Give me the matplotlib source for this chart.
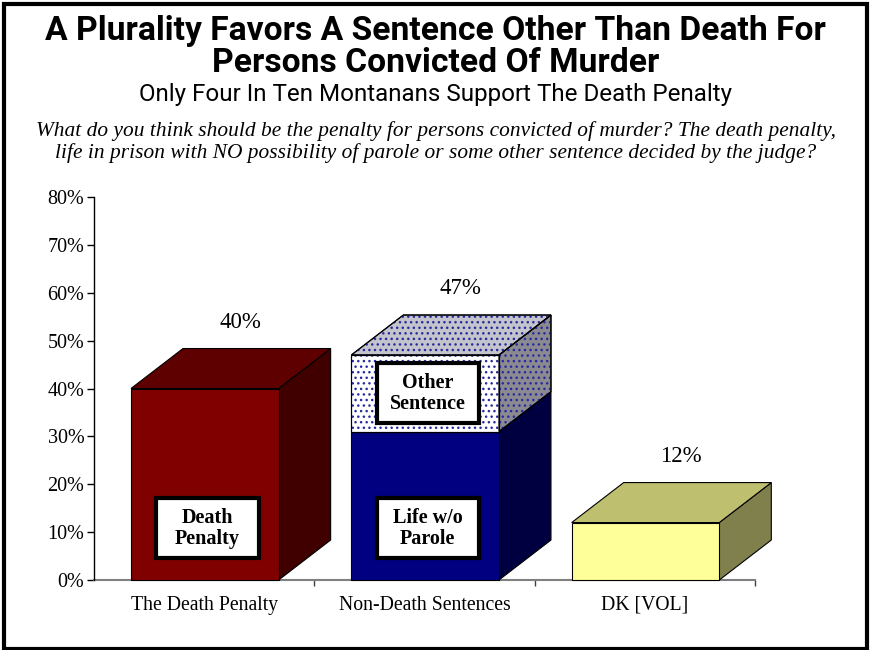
import matplotlib
matplotlib.use("Agg")
import matplotlib.pyplot as plt
from matplotlib.patches import Polygon, Rectangle

# ---------------- data ----------------
categories = ["The Death Penalty", "Non-Death Sentences", "DK [VOL]"]
death_penalty = [40, 0, 0]
life_wo_parole = [0, 31, 0]
other_sentence = [0, 16, 0]
dk_vol = [0, 0, 12]
total_labels = ["40%", "47%", "12%"]
yticks = [0, 10, 20, 30, 40, 50, 60, 70, 80]
ytick_labels = ["0%", "10%", "20%", "30%", "40%", "50%", "60%", "70%", "80%"]

title1 = "A Plurality Favors A Sentence Other Than Death For"
title2 = "Persons Convicted Of Murder"
subtitle = "Only Four In Ten Montanans Support The Death Penalty"
question1 = "What do you think should be the penalty for persons convicted of murder? The death penalty,"
question2 = "life in prison with NO possibility of parole or some other sentence decided by the judge?"

# ---------------- styles ----------------
W, H, DPI = 871, 650, 100
fig = plt.figure(figsize=(W / DPI, H / DPI), dpi=DPI)
fig.patch.set_facecolor("white")

ax_left, ax_right, ax_top, ax_bottom = 94, 755, 197, 580
ax = fig.add_axes([ax_left / W, 1 - ax_bottom / H, (ax_right - ax_left) / W, (ax_bottom - ax_top) / H])
ax.set_xlim(0, 3)
ax.set_ylim(0, 80)

serif = "Liberation Serif"
sans = "Roboto"
bar_off, bar_w = 0.168, 0.67
dx, dy = 0.236, 8.35

series = [
    # values, front, top, side, hatch, label
    (death_penalty, "#800000", "#5e0000", "#400000", None, "Death\nPenalty"),
    (life_wo_parole, "#000080", "#00005e", "#000040", None, "Life w/o\nParole"),
    (other_sentence, "#ffffff", "#c4c4cc", "#8a8a90", "...", "Other\nSentence"),
    (dk_vol, "#ffff99", "#bfbf70", "#80804d", None, None),
]

ec = "black"
lw = 0.8
bottoms = [0.0] * len(categories)
totals = [sum(s[0][i] for s in series) for i in range(len(categories))]
for vals, fc, tc, sc, hatch, lab in series:
    for i, v in enumerate(vals):
        if v <= 0:
            continue
        x0 = i + bar_off
        x1 = x0 + bar_w
        y0 = bottoms[i]
        y1 = y0 + v
        faces = []
        side = [(x1, y0), (x1 + dx, y0 + dy), (x1 + dx, y1 + dy), (x1, y1)]
        faces.append((side, sc))
        if abs(y1 - totals[i]) < 1e-9:
            top = [(x0, y1), (x0 + dx, y1 + dy), (x1 + dx, y1 + dy), (x1, y1)]
            faces.append((top, tc))
        front = [(x0, y0), (x1, y0), (x1, y1), (x0, y1)]
        faces.append((front, fc))
        for pts, col in faces:
            ax.add_patch(Polygon(pts, closed=True, facecolor=col, edgecolor=ec,
                                 linewidth=lw, clip_on=False, zorder=3))
            if hatch:
                ax.add_patch(Polygon(pts, closed=True, fill=False, hatch=hatch,
                                     edgecolor="#2a2aa0", linewidth=0, clip_on=False, zorder=3.5))
                ax.add_patch(Polygon(pts, closed=True, fill=False, edgecolor=ec,
                                     linewidth=lw, clip_on=False, zorder=3.6))
        if lab:
            cx = x0 + bar_w / 2 + 0.012
            cy = 10.8 if y0 == 0 else (y0 + y1) / 2
            bw, bh = 0.464, 12.6
            ax.add_patch(Rectangle((cx - bw / 2, cy - bh / 2), bw, bh, facecolor="white",
                                   edgecolor="black", linewidth=3, zorder=5, clip_on=False))
            ax.text(cx, cy, lab, ha="center", va="center", family=serif, fontweight="bold",
                    fontsize=14.5, zorder=6, linespacing=1.05)
        bottoms[i] = y1

for i, t in enumerate(total_labels):
    ax.text(i + 0.665, totals[i] + 13.8, t, ha="center", va="center", family=serif,
            fontsize=16.5, zorder=6)

# axes styling
for s in ["top", "right", "bottom"]:
    ax.spines[s].set_visible(False)
ax.spines["left"].set_color("black")
ax.spines["left"].set_linewidth(1.0)
ax.axhline(0, color="#808080", linewidth=1.5, zorder=2, clip_on=False)
ax.set_yticks(yticks)
ax.set_yticklabels(ytick_labels, family=serif, fontsize=14.5)
ax.tick_params(axis="y", length=5, width=1, pad=2)
ax.set_xticks([1, 2, 3])
ax.set_xticklabels([])
ax.tick_params(axis="x", length=4, width=1, color="#404040")
for i, c in enumerate(categories):
    ax.text(i + 0.5, -5.3, c, ha="center", va="center", family=serif, fontsize=14.2)

# titles
fig.text(0.5, 1 - 40 / H, title1, ha="center", va="baseline", fontsize=24.2,
         fontweight="bold", family=sans)
fig.text(0.5, 1 - 72 / H, title2, ha="center", va="baseline", fontsize=24.2,
         fontweight="bold", family=sans)
fig.text(0.5, 1 - 101 / H, subtitle, ha="center", va="baseline", fontsize=17.4,
         family=sans)
fig.text(0.5, 1 - 136 / H, question1, ha="center", va="baseline", fontsize=15.4,
         style="italic", family=serif)
fig.text(0.5, 1 - 158 / H, question2, ha="center", va="baseline", fontsize=15.4,
         style="italic", family=serif)

# outer frame
fig.add_artist(Rectangle((4 / W, 1 / H), (W - 8) / W, (H - 5) / H, transform=fig.transFigure,
                         fill=False, edgecolor="black", linewidth=3))

fig.savefig("out.png", dpi=DPI)
